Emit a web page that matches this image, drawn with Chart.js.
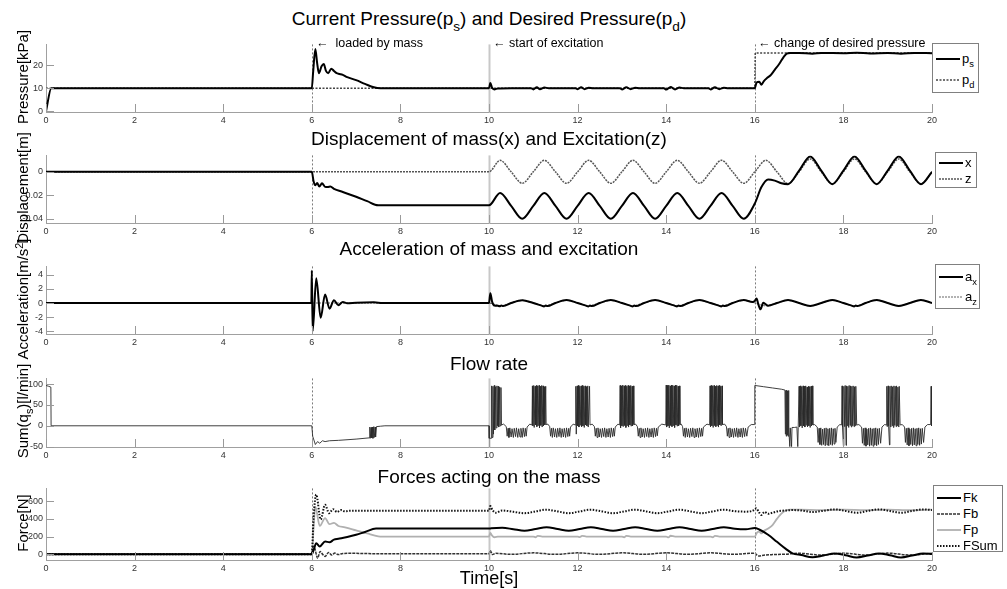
<!DOCTYPE html>
<html>
<head>
<meta charset="utf-8">
<title>Pressure, displacement, acceleration, flow and forces</title>
<script src="https://cdn.jsdelivr.net/npm/chart.js@4.4.1/dist/chart.umd.min.js"></script>
<style>
  html, body { margin: 0; padding: 0; background: #fff; }
  #figura { position: relative; width: 1007px; height: 589px; overflow: hidden;
            font-family: "Liberation Sans", Arial, Helvetica, sans-serif; color: #000; }
  #graficos canvas { position: absolute; left: 0; }
  .titulo { position: absolute; left: 489px; transform: translate(-50%, -50%); font-size: 19px;
            white-space: nowrap; line-height: 22px; }
  .ejeY { position: absolute; left: 23px; transform: translate(-50%, -50%) rotate(-90deg);
          font-size: 15px; white-space: nowrap; line-height: 18px; }
  .nota { position: absolute; font-size: 12.5px; white-space: nowrap; line-height: 14px; transform: translateY(-50%); }
  .leyenda { position: absolute; background: #fff; border: 1px solid #808080; box-sizing: border-box; }
  .fila { position: absolute; left: 3px; height: 16px; transform: translateY(-50%); display: flex;
          align-items: center; font-size: 13px; white-space: nowrap; }
  .fila svg { margin-right: 2px; flex: none; }
  .fila span { display: inline-block; line-height: 16px; }
  sub { font-size: 0.72em; vertical-align: -0.45em; line-height: 0; }
  sup { font-size: 0.72em; vertical-align: 0.5em; line-height: 0; }
</style>
</head>
<body>
<div id="figura">
  <div id="graficos"></div>

  <div class="titulo" style="top:19px">Current Pressure(p<sub>s</sub>) and Desired Pressure(p<sub>d</sub>)</div>
  <div class="titulo" style="top:139px">Displacement of mass(x) and Excitation(z)</div>
  <div class="titulo" style="top:249px">Acceleration of mass and excitation</div>
  <div class="titulo" style="top:364px">Flow rate</div>
  <div class="titulo" style="top:477px">Forces acting on the mass</div>
  <div class="titulo" style="top:578px; font-size:18px">Time[s]</div>

  <div class="ejeY" style="top:77px">Pressure[kPa]</div>
  <div class="ejeY" style="top:188px">Displacement[m]</div>
  <div class="ejeY" style="top:299px">Acceleration[m/s<sup>2</sup>]</div>
  <div class="ejeY" style="top:411px">Sum(q<sub>s</sub>)[l/min]</div>
  <div class="ejeY" style="top:523px">Force[N]</div>

  <div class="nota" style="left:316px; top:43px">←&nbsp; loaded by mass</div>
  <div class="nota" style="left:493px; top:43px">←&nbsp;start of excitation</div>
  <div class="nota" style="left:758px; top:43px">←&nbsp;change of desired pressure</div>

  <div class="leyenda" style="left:932px; top:43px; width:47px; height:50px">
    <div class="fila" style="top:15px"><svg width="24" height="6"><line x1="0" y1="3" x2="24" y2="3" stroke="#000" stroke-width="2"/></svg><span>p<sub>s</sub></span></div>
    <div class="fila" style="top:36px"><svg width="24" height="6"><line x1="0" y1="3" x2="24" y2="3" stroke="#444" stroke-width="1.5" stroke-dasharray="2 1.5"/></svg><span>p<sub>d</sub></span></div>
  </div>
  <div class="leyenda" style="left:935px; top:152px; width:42px; height:36px">
    <div class="fila" style="top:10px"><svg width="24" height="6"><line x1="0" y1="3" x2="24" y2="3" stroke="#000" stroke-width="2"/></svg><span>x</span></div>
    <div class="fila" style="top:26px"><svg width="24" height="6"><line x1="0" y1="3" x2="24" y2="3" stroke="#555" stroke-width="1.5" stroke-dasharray="2 1"/></svg><span>z</span></div>
  </div>
  <div class="leyenda" style="left:935px; top:264px; width:45px; height:45px">
    <div class="fila" style="top:12px"><svg width="24" height="6"><line x1="0" y1="3" x2="24" y2="3" stroke="#000" stroke-width="2"/></svg><span>a<sub>x</sub></span></div>
    <div class="fila" style="top:32px"><svg width="24" height="6"><line x1="0" y1="3" x2="24" y2="3" stroke="#666" stroke-width="1.2" stroke-dasharray="2 1"/></svg><span>a<sub>z</sub></span></div>
  </div>
  <div class="leyenda" style="left:933px; top:485px; width:70px; height:67px">
    <div class="fila" style="top:12px"><svg width="24" height="6"><line x1="0" y1="3" x2="24" y2="3" stroke="#000" stroke-width="2"/></svg><span>Fk</span></div>
    <div class="fila" style="top:28px"><svg width="24" height="6"><line x1="0" y1="3" x2="24" y2="3" stroke="#333" stroke-width="1.5" stroke-dasharray="3 1"/></svg><span>Fb</span></div>
    <div class="fila" style="top:44px"><svg width="24" height="6"><line x1="0" y1="3" x2="24" y2="3" stroke="#b0b0b0" stroke-width="1.8"/></svg><span>Fp</span></div>
    <div class="fila" style="top:60px"><svg width="24" height="6"><line x1="0" y1="3" x2="24" y2="3" stroke="#111" stroke-width="2" stroke-dasharray="1.5 1.5"/></svg><span>FSum</span></div>
  </div>
</div>

<script>
// Eje de tiempo común y eventos marcados con líneas verticales
const timeTicks = [0, 2, 4, 6, 8, 10, 12, 14, 16, 18, 20];
const eventTimes = [6, 10, 16];

// Presión actual y deseada [kPa]
const pressureTicks = [0, 10, 20];
const pressureS = [
  [0, 0], [0.12, 10], [6.0, 10], [6.03, 17], [6.08, 27], [6.12, 21], [6.16, 16.5], [6.22, 19.5], [6.27, 20.5],
  [6.32, 17.5], [6.37, 16.5], [6.44, 18.5], [6.5, 17.5], [6.56, 16.5], [6.62, 16.2], [6.7, 15.8], [6.8, 14.8],
  [7.0, 13.5], [7.2, 11.9], [7.4, 10.4], [7.55, 10],
  [10.0, 10], [10.03, 12.3], [10.07, 10.2], [10.12, 9.5], [10.2, 9.9], [10.5, 10], [10.95, 10],
  [11.0, 9.5], [11.08, 10.4], [11.15, 9.6], [11.25, 10.3], [11.35, 10], [11.95, 10],
  [12.0, 9.6], [12.08, 10.4], [12.16, 9.6], [12.25, 10.2], [12.35, 10], [12.95, 10],
  [13.0, 9.5], [13.1, 10.4], [13.2, 9.6], [13.3, 10.2], [13.4, 10], [13.95, 10],
  [14.0, 9.4], [14.1, 10.5], [14.2, 9.5], [14.3, 10.3], [14.4, 10], [14.95, 10],
  [15.0, 9.5], [15.1, 10.4], [15.2, 9.6], [15.3, 10.2], [15.4, 10], [15.95, 10],
  [16.0, 10], [16.04, 12.5], [16.1, 12.8], [16.15, 11.5], [16.2, 13], [16.28, 14.5], [16.35, 15.5], [16.45, 18],
  [16.55, 20.5], [16.65, 23.5], [16.72, 25], [16.8, 25.3], [17.0, 25.3], [17.3, 25], [17.5, 25.3], [18.0, 25.2],
  [18.3, 25.4], [18.6, 25.1], [19.0, 25.3], [19.3, 25], [19.6, 25.3], [20, 25.2]
];
const pressureD = [[0, 10], [16.0, 10], [16.01, 25.3], [20, 25.3]];

// Desplazamiento de la masa y excitación [m]
const displacementTicks = [-0.04, -0.02, 0];
const displacementX = [
  [0, 0], [6.0, 0], [6.04, -0.008], [6.08, -0.0115], [6.12, -0.0095], [6.17, -0.0125], [6.23, -0.0098],
  [6.3, -0.0128], [6.36, -0.013], [6.42, -0.0125], [6.5, -0.0145], [6.7, -0.0172], [7.0, -0.0212],
  [7.25, -0.025], [7.5, -0.0285], [10.0, -0.0285],
  [10.25, -0.018], [10.5, -0.029], [10.75, -0.040], [11.0, -0.029],
  [11.25, -0.018], [11.5, -0.029], [11.75, -0.040], [12.0, -0.029],
  [12.25, -0.018], [12.5, -0.029], [12.75, -0.040], [13.0, -0.029],
  [13.25, -0.018], [13.5, -0.029], [13.75, -0.040], [14.0, -0.029],
  [14.25, -0.018], [14.5, -0.029], [14.75, -0.040], [15.0, -0.029],
  [15.25, -0.018], [15.5, -0.029], [15.75, -0.040], [16.0, -0.027],
  [16.15, -0.013], [16.3, -0.0065], [16.45, -0.0075], [16.6, -0.0098], [16.75, -0.0105],
  [17.0, 0.001], [17.25, 0.013], [17.5, 0.001], [17.75, -0.0105],
  [18.0, 0.001], [18.25, 0.013], [18.5, 0.001], [18.75, -0.0105],
  [19.0, 0.001], [19.25, 0.013], [19.5, 0.001], [19.75, -0.0105], [20.0, 0.0]
];
const excitationZ = [
  [0, 0], [10.0, 0], [10.25, 0.0098], [10.5, 0], [10.75, -0.0098], [11.0, 0], [11.25, 0.0098], [11.5, 0],
  [11.75, -0.0098], [12.0, 0], [12.25, 0.0098], [12.5, 0], [12.75, -0.0098], [13.0, 0], [13.25, 0.0098],
  [13.5, 0], [13.75, -0.0098], [14.0, 0], [14.25, 0.0098], [14.5, 0], [14.75, -0.0098], [15.0, 0],
  [15.25, 0.0098], [15.5, 0], [15.75, -0.0098], [16.0, 0], [16.25, 0.0098], [16.5, 0], [16.75, -0.0100],
  [17.0, 0], [17.25, 0.0110], [17.5, 0], [17.75, -0.0102], [18.0, 0], [18.25, 0.0110], [18.5, 0],
  [18.75, -0.0102], [19.0, 0], [19.25, 0.0110], [19.5, 0], [19.75, -0.0102], [20.0, 0]
];

// Aceleración de la masa y de la excitación [m/s2]
const accelTicks = [-4, -2, 0, 2, 4];
const accelX = [
  [0, 0], [5.99, 0], [6.0, 4.6], [6.02, -4.0], [6.1, 3.5], [6.2, -2.1], [6.3, 1.2], [6.4, -0.8], [6.5, 0.4],
  [6.6, -0.3], [6.7, 0.15], [6.8, -0.05], [7.0, 0.05], [7.4, 0.1], [7.6, 0], [10.0, 0],
  [10.03, 1.4], [10.07, 0.2], [10.12, -0.35], [10.2, -0.38], [10.24, -0.47], [10.28, -0.36], [10.32, -0.44],
  [10.5, 0], [10.75, 0.4], [11.0, 0],
  [11.2, -0.4], [11.24, -0.48], [11.28, -0.35], [11.32, -0.44], [11.5, 0], [11.75, 0.42], [12.0, 0],
  [12.2, -0.4], [12.24, -0.48], [12.28, -0.35], [12.32, -0.44], [12.5, 0], [12.75, 0.42], [13.0, 0],
  [13.2, -0.4], [13.24, -0.48], [13.28, -0.35], [13.32, -0.44], [13.5, 0], [13.75, 0.42], [14.0, 0],
  [14.2, -0.4], [14.24, -0.48], [14.28, -0.35], [14.32, -0.44], [14.5, 0], [14.75, 0.42], [15.0, 0],
  [15.2, -0.4], [15.24, -0.48], [15.28, -0.35], [15.32, -0.44], [15.5, 0], [15.75, 0.42], [15.95, 0.15],
  [16.0, 0.3], [16.04, 0.65], [16.08, -0.2], [16.13, -0.9], [16.19, 0.05], [16.24, -0.15], [16.3, -0.38],
  [16.5, 0], [16.75, 0.42], [17.0, 0], [17.25, -0.42], [17.5, 0], [17.75, 0.42], [18.0, 0],
  [18.2, -0.4], [18.24, -0.48], [18.28, -0.36], [18.32, -0.43], [18.5, 0], [18.75, 0.42], [19.0, 0],
  [19.25, -0.42], [19.5, 0], [19.75, 0.42], [20.0, 0]
];
const accelZ = [
  [0, 0], [10.0, 0], [10.25, -0.39], [10.5, 0], [10.75, 0.39], [11.0, 0], [11.25, -0.39], [11.5, 0],
  [11.75, 0.39], [12.0, 0], [12.25, -0.39], [12.5, 0], [12.75, 0.39], [13.0, 0], [13.25, -0.39], [13.5, 0],
  [13.75, 0.39], [14.0, 0], [14.25, -0.39], [14.5, 0], [14.75, 0.39], [15.0, 0], [15.25, -0.39], [15.5, 0],
  [15.75, 0.39], [16.0, 0], [16.25, -0.39], [16.5, 0], [16.75, 0.39], [17.0, 0], [17.25, -0.42], [17.5, 0],
  [17.75, 0.42], [18.0, 0], [18.25, -0.42], [18.5, 0], [18.75, 0.42], [19.0, 0], [19.25, -0.42], [19.5, 0],
  [19.75, 0.42], [20.0, 0]
];

// Caudal total [l/min]
const flowTicks = [-50, 0, 50, 100];
const flowRate = [
  [0, 97], [0.06, 95], [0.11, 93], [0.115, 0], [6.0, 0], [6.02, -25], [6.08, -45], [6.13, -38], [6.18, -42],
  [6.24, -36], [6.3, -38], [6.4, -36], [6.6, -35], [7.0, -32], [7.3, -29],
  [7.31, -3], [7.32, -30], [7.34, -4], [7.35, -29], [7.37, -3], [7.38, -30], [7.40, -2], [7.41, -28], [7.43, -3],
  [7.44, -27], [7.46, -2], [7.55, -1], [7.65, 0], [10.0, 0], [10.005, -30], [10.05, -30],
  [10.06, 96], [10.07, -28], [10.09, 95], [10.10, -20], [10.12, 97], [10.13, -10], [10.15, 94], [10.16, -5],
  [10.18, 96], [10.19, 0], [10.21, 95], [10.22, -3], [10.24, 93], [10.25, 0], [10.27, 92], [10.28, 2],
  [10.33, 4], [10.39, -2],
  [10.41, -25], [10.43, -6], [10.45, -28], [10.47, -5], [10.50, -27], [10.52, -7], [10.55, -28], [10.57, -6],
  [10.60, -26], [10.62, -5], [10.65, -28], [10.67, -7], [10.70, -27], [10.72, -6], [10.75, -28], [10.77, -5],
  [10.80, -26], [10.82, -6], [10.84, -25], [10.86, -3],
  [10.92, 4], [10.97, 2],
  [10.98, 96], [10.99, 0], [11.01, 97], [11.02, -4], [11.04, 95], [11.05, 2], [11.07, 97], [11.08, -2],
  [11.10, 96], [11.11, 0], [11.13, 97], [11.14, -5], [11.16, 95], [11.17, 1], [11.19, 97], [11.20, -3],
  [11.22, 96], [11.23, 0], [11.25, 94], [11.26, 2], [11.28, 95], [11.29, 3],
  [11.33, 4], [11.37, -2],
  [11.39, -25], [11.41, -6], [11.43, -28], [11.45, -5], [11.48, -27], [11.50, -7], [11.53, -28], [11.55, -6],
  [11.58, -26], [11.60, -5], [11.63, -28], [11.65, -7], [11.68, -27], [11.70, -6], [11.73, -28], [11.75, -5],
  [11.78, -26], [11.80, -6], [11.82, -25], [11.84, -3],
  [11.90, 4], [11.95, 2],
  [11.96, 95], [11.97, -20], [11.99, 96], [12.00, 0], [12.02, 97], [12.03, -3], [12.05, 95], [12.06, 1],
  [12.08, 96], [12.09, -2], [12.11, 97], [12.12, 0], [12.14, 95], [12.15, -4], [12.17, 96], [12.18, 2],
  [12.20, 94], [12.21, 0], [12.23, 96], [12.24, -3], [12.27, 95], [12.28, 2],
  [12.33, 4], [12.38, -2],
  [12.40, -25], [12.42, -6], [12.44, -28], [12.46, -5], [12.49, -27], [12.51, -7], [12.54, -28], [12.56, -6],
  [12.59, -26], [12.61, -5], [12.64, -28], [12.66, -7], [12.69, -27], [12.71, -6], [12.74, -28], [12.76, -5],
  [12.79, -26], [12.81, -6], [12.83, -25], [12.85, -3],
  [12.91, 4], [12.95, 2],
  [12.96, 97], [12.97, -5], [12.99, 96], [13.00, 0], [13.02, 98], [13.03, -2], [13.05, 96], [13.06, 1],
  [13.08, 97], [13.09, -4], [13.11, 95], [13.12, 0], [13.14, 97], [13.15, -3], [13.17, 96], [13.18, 2],
  [13.20, 97], [13.21, -1], [13.23, 95], [13.24, 0], [13.26, 96], [13.27, 3],
  [13.31, 4], [13.35, -2],
  [13.37, -25], [13.39, -6], [13.41, -28], [13.43, -5], [13.46, -27], [13.48, -7], [13.51, -28], [13.53, -6],
  [13.56, -26], [13.58, -5], [13.61, -28], [13.63, -7], [13.66, -27], [13.68, -6], [13.71, -28], [13.73, -5],
  [13.76, -26], [13.78, -6], [13.80, -24], [13.82, -3],
  [13.90, 4], [13.99, 2],
  [14.00, 98], [14.01, -3], [14.03, 97], [14.04, 0], [14.06, 98], [14.07, -5], [14.09, 96], [14.10, 1],
  [14.12, 98], [14.13, -2], [14.15, 97], [14.16, 0], [14.18, 96], [14.19, -4], [14.21, 98], [14.22, 2],
  [14.24, 97], [14.25, -1], [14.27, 95], [14.28, 0], [14.30, 96], [14.31, 3],
  [14.34, 4], [14.37, -2],
  [14.39, -25], [14.41, -6], [14.43, -28], [14.45, -5], [14.48, -27], [14.50, -7], [14.53, -28], [14.55, -6],
  [14.58, -26], [14.60, -5], [14.63, -28], [14.65, -7], [14.68, -27], [14.70, -6], [14.73, -28], [14.75, -5],
  [14.78, -26], [14.80, -6], [14.82, -25], [14.84, -3],
  [14.92, 4], [14.98, 2],
  [14.99, 96], [15.00, -2], [15.02, 97], [15.03, 0], [15.05, 96], [15.06, -4], [15.08, 97], [15.09, 1],
  [15.11, 95], [15.12, -2], [15.14, 97], [15.15, 0], [15.17, 96], [15.18, -3], [15.20, 97], [15.21, 2],
  [15.23, 95], [15.24, 0], [15.26, 96], [15.27, 3],
  [15.32, 4], [15.36, -2],
  [15.38, -25], [15.40, -6], [15.42, -28], [15.44, -5], [15.47, -27], [15.49, -7], [15.52, -28], [15.54, -6],
  [15.57, -26], [15.59, -5], [15.62, -28], [15.64, -7], [15.67, -27], [15.69, -6], [15.72, -28], [15.74, -5],
  [15.77, -26], [15.79, -6], [15.82, -25], [15.85, -3],
  [15.92, 3], [15.99, 3],
  [16.0, 97], [16.2, 94], [16.4, 91], [16.6, 88], [16.68, 86],
  [16.69, -20], [16.70, 85], [16.71, -25], [16.72, 86], [16.73, -22], [16.74, 84], [16.75, -25], [16.76, 85],
  [16.77, -5], [16.79, -50], [16.80, -5], [16.83, -50], [16.84, -4], [16.90, -4], [16.95, -3],
  [16.97, -50], [16.98, -4], [17.00, 95], [17.01, -3], [17.03, 96], [17.04, 0], [17.06, 94], [17.07, -5],
  [17.09, 96], [17.10, 0], [17.12, 95], [17.13, -3], [17.15, 96], [17.16, 1], [17.18, 93], [17.19, -2],
  [17.21, 95], [17.22, 0], [17.24, 94], [17.25, -4], [17.27, 95], [17.28, 0], [17.30, 96], [17.31, 2],
  [17.35, 3], [17.41, -3],
  [17.43, -40], [17.45, -6], [17.47, -45], [17.49, -5], [17.51, -47], [17.53, -8], [17.55, -45], [17.57, -6],
  [17.59, -48], [17.61, -5], [17.63, -46], [17.65, -7], [17.67, -48], [17.69, -6], [17.71, -45], [17.73, -5],
  [17.75, -47], [17.77, -7], [17.79, -44], [17.81, -6], [17.83, -40], [17.86, -3],
  [17.92, 3], [17.96, 2],
  [17.97, 96], [17.98, -3], [18.00, -48], [18.01, 95], [18.03, -2], [18.04, 97], [18.06, -47], [18.07, 96],
  [18.09, 0], [18.10, 95], [18.12, -4], [18.13, 97], [18.15, 1], [18.16, 96], [18.18, -3], [18.19, 95],
  [18.21, 0], [18.22, 96], [18.24, -2], [18.25, 94], [18.27, 0], [18.28, 95], [18.30, 2],
  [18.35, 3], [18.41, -3],
  [18.43, -42], [18.45, -6], [18.47, -47], [18.49, -5], [18.51, -49], [18.53, -8], [18.55, -46], [18.57, -6],
  [18.59, -49], [18.61, -5], [18.63, -47], [18.65, -7], [18.67, -49], [18.69, -6], [18.71, -46], [18.73, -5],
  [18.75, -48], [18.77, -7], [18.79, -45], [18.81, -6], [18.84, -42], [18.87, -3],
  [18.93, 3], [18.97, 2],
  [18.98, 95], [18.99, -2], [19.01, 96], [19.02, 0], [19.04, -46], [19.05, 95], [19.07, -3], [19.08, 96],
  [19.10, 0], [19.11, 94], [19.13, -4], [19.14, 96], [19.16, 1], [19.17, 95], [19.19, -2], [19.20, 96],
  [19.22, 0], [19.23, 93], [19.25, -3], [19.26, 95], [19.28, 2],
  [19.33, 3], [19.38, -3],
  [19.40, -40], [19.42, -6], [19.44, -46], [19.46, -5], [19.48, -48], [19.50, -8], [19.52, -45], [19.54, -6],
  [19.56, -48], [19.58, -5], [19.60, -46], [19.62, -7], [19.64, -48], [19.66, -6], [19.68, -45], [19.70, -5],
  [19.72, -47], [19.74, -7], [19.76, -44], [19.78, -6], [19.81, -40], [19.84, -3],
  [19.90, 3], [19.97, 3], [19.98, 95], [19.99, 0], [20.0, 93]
];

// Fuerzas que actúan sobre la masa [N]
const forceTicks = [0, 200, 400, 600];
const forceK = [
  [0, 0], [6.0, 0], [6.05, 60], [6.1, 125], [6.18, 88], [6.3, 145], [6.4, 135], [6.5, 165], [6.6, 175],
  [6.8, 195], [7.0, 220], [7.2, 252], [7.45, 290], [10.0, 290], [10.05, 294], [10.3, 300], [10.55, 283],
  [10.8, 266], [11.05, 285], [11.3, 305], [11.55, 285], [11.8, 265], [12.05, 285], [12.3, 305], [12.55, 285],
  [12.8, 265], [13.05, 285], [13.3, 305], [13.55, 285], [13.8, 265], [14.05, 285], [14.3, 305], [14.55, 285],
  [14.8, 265], [15.05, 285], [15.3, 305], [15.55, 288], [15.8, 282], [16.0, 298], [16.1, 280], [16.3, 220],
  [16.5, 140], [16.7, 60], [16.85, 10], [17.05, -10], [17.3, -35], [17.55, -15], [17.8, 8], [18.05, -12],
  [18.3, -37], [18.55, -15], [18.8, 8], [19.05, -12], [19.3, -37], [19.55, -15], [19.8, 8], [20, 2]
];
const forceB = [
  [0, 0], [6.0, 0], [6.03, 90], [6.07, 60], [6.13, -45], [6.19, 30], [6.25, -5], [6.3, -25], [6.38, 20],
  [6.45, -10], [6.52, 12], [6.6, -5], [6.7, 8], [6.9, 10], [7.5, 5], [10, 5], [10.03, 40], [10.08, -5],
  [10.15, 10], [10.5, -2], [11.0, 15], [11.5, -2], [12.0, 15], [12.5, -2], [13.0, 15], [13.5, -2], [14.0, 15],
  [14.5, -2], [15.0, 15], [15.5, -2], [16.0, 12], [16.05, -10], [16.1, -20], [16.2, -12], [16.4, -5],
  [16.7, 0], [17.0, 10], [17.5, -10], [18.0, 12], [18.5, -10], [19.0, 12], [19.5, -10], [20, 10]
];
const forceP = [
  [0, 0], [6.0, 0], [6.04, 300], [6.08, 540], [6.18, 320], [6.3, 410], [6.4, 340], [6.5, 355], [6.6, 320],
  [6.75, 305], [7.0, 270], [7.25, 235], [7.5, 203], [7.6, 200], [10.0, 200], [10.03, 240], [10.07, 210],
  [10.12, 192], [10.2, 198], [10.4, 200], [11.0, 200], [11.05, 192], [11.1, 208], [11.2, 200], [12.0, 200],
  [12.05, 193], [12.1, 207], [12.2, 200], [13.0, 200], [13.05, 192], [13.1, 208], [13.2, 200], [14.0, 200],
  [14.05, 191], [14.1, 209], [14.2, 200], [15.0, 200], [15.05, 192], [15.1, 207], [15.2, 200], [16.0, 200],
  [16.05, 245], [16.1, 255], [16.15, 235], [16.2, 262], [16.3, 290], [16.4, 330], [16.5, 400], [16.6, 460],
  [16.7, 495], [16.8, 505], [17.0, 505], [17.5, 500], [18.0, 505], [18.5, 500], [19.0, 505], [19.5, 498],
  [20, 505]
];
const forceSum = [
  [0, 0], [6.0, 0], [6.04, 420], [6.1, 675], [6.2, 395], [6.3, 560], [6.39, 465], [6.48, 510], [6.57, 478],
  [6.66, 500], [6.75, 485], [6.85, 492], [10.0, 492], [10.03, 545], [10.08, 500], [10.15, 470], [10.3, 495],
  [10.55, 480], [10.8, 465], [11.05, 485], [11.3, 505], [11.55, 485], [11.8, 465], [12.05, 485], [12.3, 505],
  [12.55, 485], [12.8, 465], [13.05, 485], [13.3, 505], [13.55, 485], [13.8, 465], [14.05, 485], [14.3, 505],
  [14.55, 485], [14.8, 465], [15.05, 485], [15.3, 505], [15.55, 488], [15.8, 482], [16.0, 505], [16.03, 520],
  [16.1, 470], [16.15, 445], [16.22, 480], [16.3, 458], [16.4, 470], [16.55, 490], [16.7, 495], [16.85, 500],
  [17.05, 495], [17.3, 478], [17.55, 492], [17.8, 508], [18.05, 490], [18.3, 470], [18.55, 490], [18.8, 508],
  [19.05, 490], [19.3, 470], [19.55, 490], [19.8, 508], [20, 500]
];

const FUENTE = '"Liberation Sans", Arial, Helvetica, sans-serif';
const MARGEN_SUP = 6;
const ALTO_EJE_X = 14;

/**
 * Dibuja las líneas verticales de los eventos y las marcas interiores de los ejes.
 */
const marcasPanel = {
    id: 'marcasPanel',
    beforeDatasetsDraw(chart) {
        const { ctx, chartArea: a, scales: { x } } = chart;
        ctx.save();
        eventTimes.forEach(t => {
            const px = Math.round(x.getPixelForValue(t)) + 0.5;
            if (t === 10) {
                ctx.strokeStyle = '#c8c8c8';
                ctx.lineWidth = 2;
                ctx.setLineDash([]);
            } else {
                ctx.strokeStyle = '#7c7c7c';
                ctx.lineWidth = 1;
                ctx.setLineDash([2, 2]);
            }
            ctx.beginPath();
            ctx.moveTo(px, a.top);
            ctx.lineTo(px, a.bottom);
            ctx.stroke();
        });
        ctx.restore();
    },
    afterDraw(chart) {
        const { ctx, chartArea: a, scales: { x, y } } = chart;
        ctx.save();
        ctx.strokeStyle = '#9a9a9a';
        ctx.lineWidth = 1;
        ctx.beginPath();
        x.ticks.forEach(tk => {
            const px = Math.round(x.getPixelForValue(tk.value)) + 0.5;
            ctx.moveTo(px, a.bottom);
            ctx.lineTo(px, a.bottom - 8);
        });
        y.ticks.forEach(tk => {
            const py = Math.round(y.getPixelForValue(tk.value)) + 0.5;
            ctx.moveTo(a.left, py);
            ctx.lineTo(a.left + 8, py);
        });
        ctx.stroke();
        ctx.restore();
    }
};

/**
 * Construye un conjunto de datos de línea a partir de pares [tiempo, valor].
 */
function serie(datos, color, ancho, guiones, suave) {
    return {
        data: datos.map(([x, y]) => ({ x, y })),
        borderColor: color,
        borderWidth: ancho,
        borderDash: guiones || [],
        pointRadius: 0,
        fill: false,
        tension: 0,
        cubicInterpolationMode: suave ? 'monotone' : 'default'
    };
}

/**
 * Representa uno de los cinco paneles que comparten el eje de tiempo.
 */
class PanelTemporal {
    constructor(contenedor, def) {
        this.def = def;
        this.lienzo = document.createElement('canvas');
        this.lienzo.width = 1007;
        this.lienzo.height = def.bottom - def.top + MARGEN_SUP + ALTO_EJE_X;
        this.lienzo.style.top = (def.top - MARGEN_SUP) + 'px';
        contenedor.appendChild(this.lienzo);
        this.grafico = new Chart(this.lienzo, this.configuracion());
    }

    configuracion() {
        const def = this.def;
        const estiloTicks = { font: { size: 9, family: FUENTE }, color: '#333', padding: 3 };
        return {
            type: 'line',
            data: { datasets: def.datasets },
            options: {
                animation: false,
                responsive: false,
                devicePixelRatio: 1,
                events: [],
                layout: { padding: { top: MARGEN_SUP, right: 75, left: 0, bottom: 0 } },
                plugins: { legend: { display: false }, tooltip: { enabled: false } },
                scales: {
                    x: {
                        type: 'linear',
                        min: 0,
                        max: 20,
                        afterBuildTicks: s => { s.ticks = timeTicks.map(v => ({ value: v })); },
                        afterFit: s => { s.height = ALTO_EJE_X; },
                        grid: { drawOnChartArea: false, drawTicks: false },
                        border: { color: '#a0a0a0' },
                        ticks: { ...estiloTicks, maxRotation: 0, autoSkip: false, callback: v => String(v) }
                    },
                    y: {
                        min: def.yMin,
                        max: def.yMax,
                        afterBuildTicks: s => { s.ticks = def.ticks.map(v => ({ value: v })); },
                        afterFit: s => { s.width = 46; },
                        grid: { drawOnChartArea: false, drawTicks: false },
                        border: { color: '#a0a0a0' },
                        ticks: { ...estiloTicks, autoSkip: false, callback: v => String(v) }
                    }
                }
            },
            plugins: [marcasPanel]
        };
    }
}

const contenedor = document.getElementById('graficos');

new PanelTemporal(contenedor, {
    top: 42, bottom: 112, yMin: -0.3, yMax: 29, ticks: pressureTicks,
    datasets: [
        serie(pressureS, '#000', 2, null, true),
        serie(pressureD, '#444', 1.5, [2, 1.5], false)
    ]
});
new PanelTemporal(contenedor, {
    top: 153, bottom: 223, yMin: -0.0436, yMax: 0.014, ticks: displacementTicks,
    datasets: [
        serie(displacementX, '#000', 2, null, true),
        serie(excitationZ, '#555', 1.5, [2, 1], true)
    ]
});
new PanelTemporal(contenedor, {
    top: 264, bottom: 334, yMin: -4.4, yMax: 5.2, ticks: accelTicks,
    datasets: [
        serie(accelX, '#000', 2, null, true),
        serie(accelZ, '#666', 1.2, [2, 1], true)
    ]
});
new PanelTemporal(contenedor, {
    top: 376, bottom: 447, yMin: -51, yMax: 114, ticks: flowTicks,
    datasets: [
        serie(flowRate, '#2a2a2a', 0.9, null, false)
    ]
});
new PanelTemporal(contenedor, {
    top: 486, bottom: 560, yMin: -66, yMax: 746, ticks: forceTicks,
    datasets: [
        serie(forceK, '#000', 2, null, true),
        serie(forceSum, '#111', 2, [1.5, 1.5], true),
        serie(forceB, '#333', 1.5, [3, 1], true),
        serie(forceP, '#b0b0b0', 1.8, null, true)
    ]
});
</script>
</body>
</html>
